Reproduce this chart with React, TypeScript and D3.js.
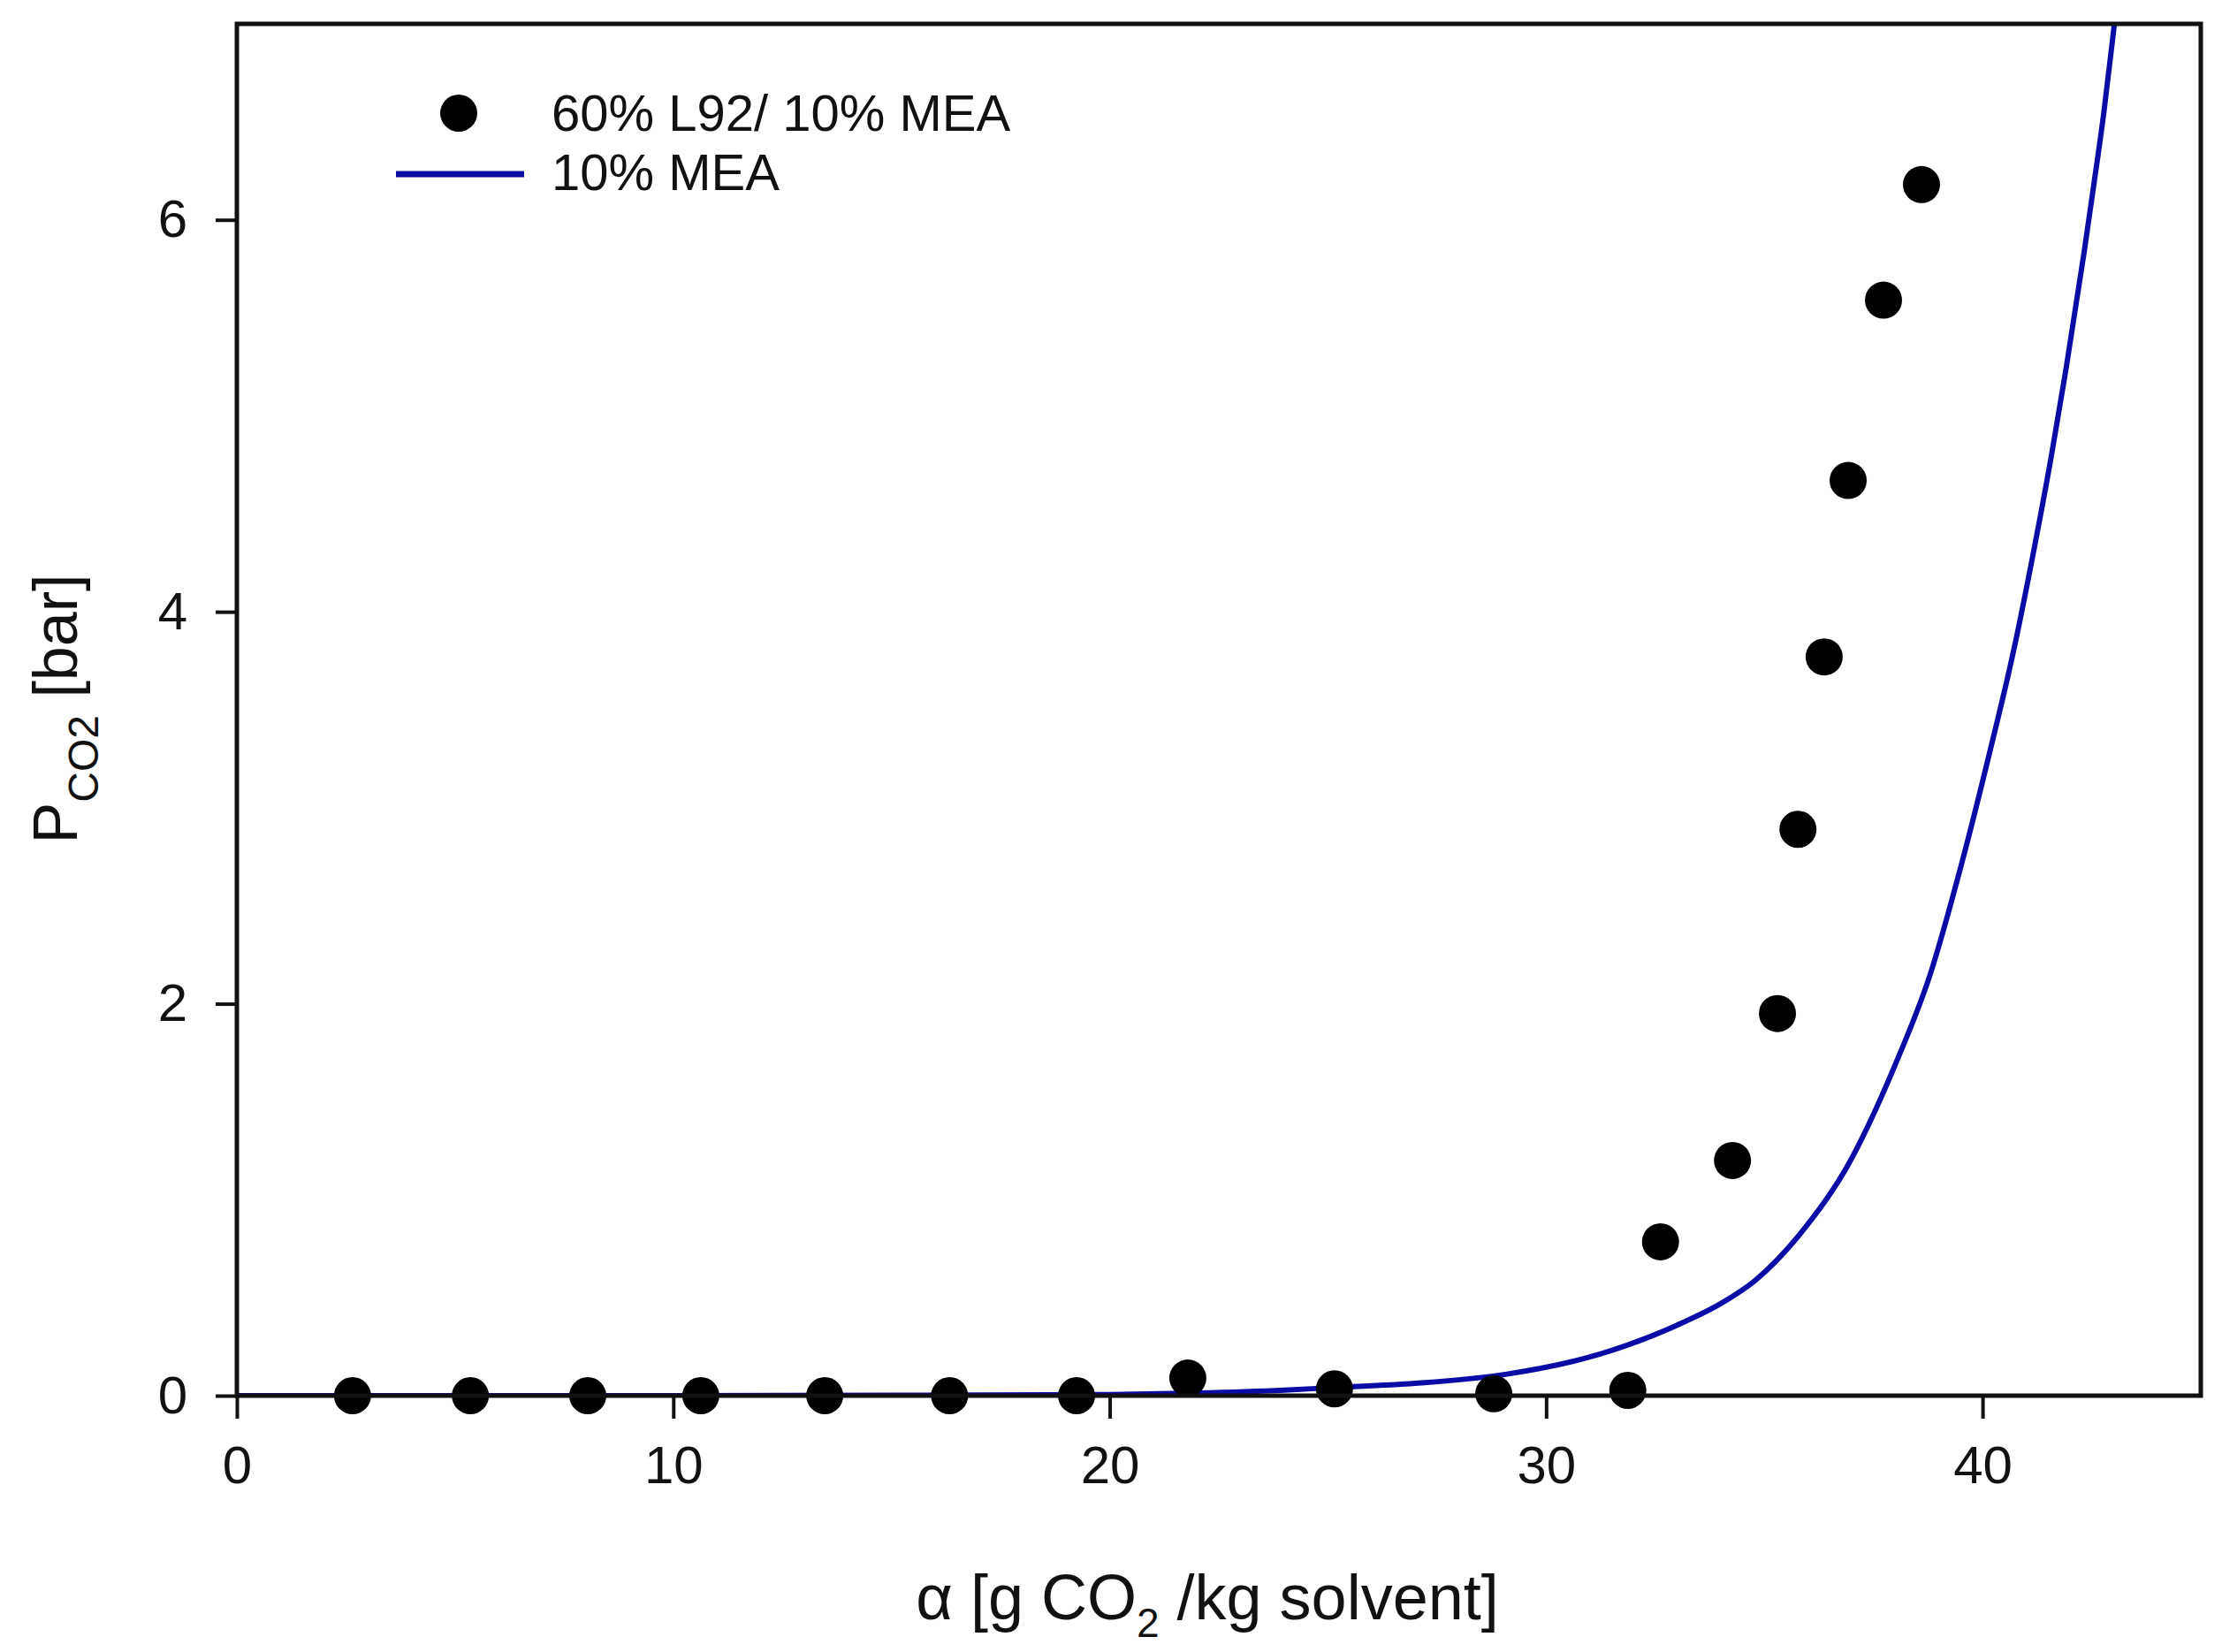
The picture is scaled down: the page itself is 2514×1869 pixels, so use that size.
import React, { useRef, useEffect } from "react"
import * as d3 from "d3"

// measured data: 60% L92 / 10% MEA
const pointAlpha = [2.65, 5.35, 8.04, 10.63, 13.47, 16.33, 19.24, 21.79, 25.15, 28.8, 31.87, 32.62, 34.27, 35.3, 35.77, 36.37, 36.92, 37.73, 38.6]
const pointP = [0, 0, 0, 0, 0, 0, 0, 0.09, 0.035, 0.01, 0.027, 0.785, 1.2, 1.95, 2.89, 3.77, 4.67, 5.59, 6.18]

// model curve: 10% MEA
const curveAlpha = [0, 5, 10, 15, 20, 22, 24, 25, 27, 29.1, 31.2, 33.2, 34.0, 34.8, 35.8, 36.9, 38.0, 38.8, 39.55, 40.16, 40.71, 41.18, 41.58, 41.92, 42.33, 42.53, 42.78, 43.02, 43.2]
const curveP = [0, 0, 0, 0.002, 0.006, 0.013, 0.028, 0.04, 0.063, 0.11, 0.21, 0.38, 0.47, 0.59, 0.82, 1.17, 1.69, 2.15, 2.74, 3.28, 3.8, 4.32, 4.8, 5.25, 5.84, 6.15, 6.55, 7.0, 7.35]

const xTicks = [0, 10, 20, 30, 40]
const yTicks = [0, 2, 4, 6]
const legendLabels = ["60% L92/ 10% MEA", "10% MEA"]

const WIDTH = 2514
const HEIGHT = 1869
const MARGIN = { top: 27, right: 24, bottom: 290, left: 268 }
const BLUE = "#0b0ba6"
const FONT = "'Liberation Sans', Arial, sans-serif"

export default function App() {
  const svgRef = useRef<SVGSVGElement>(null)

  useEffect(() => {
    const svg = svgRef.current
    if (!svg) return
    const innerW = WIDTH - MARGIN.left - MARGIN.right
    const innerH = HEIGHT - MARGIN.top - MARGIN.bottom

    d3.select(svg).selectAll("*").remove()

    const x = d3.scaleLinear().domain([0, 45]).range([0, innerW])
    const y = d3.scaleLinear().domain([0, 7]).range([innerH, 0])

    d3.select(svg).append("defs").append("clipPath").attr("id", "plot-clip")
      .append("rect").attr("x", 0).attr("y", 0).attr("width", innerW).attr("height", innerH)

    const root = d3.select(svg).append("g")
      .attr("transform", `translate(${MARGIN.left},${MARGIN.top})`)

    // Axes
    root.append("g").attr("transform", `translate(0,${innerH})`)
      .call(d3.axisBottom(x).tickValues(xTicks).tickSize(26).tickPadding(30).tickFormat((d) => String(d)))
      .call((g) => g.select(".domain").remove())
      .call((g) => g.selectAll(".tick line").attr("stroke", "#111").attr("stroke-width", 4))
      .call((g) => g.selectAll("text").attr("fill", "#111").attr("font-size", 60).attr("font-family", FONT))

    root.append("g")
      .call(d3.axisLeft(y).tickValues(yTicks).tickSize(24).tickPadding(32).tickFormat((d) => String(d)))
      .call((g) => g.select(".domain").remove())
      .call((g) => g.selectAll(".tick line").attr("stroke", "#111").attr("stroke-width", 4))
      .call((g) => g.selectAll("text").attr("fill", "#111").attr("font-size", 60).attr("font-family", FONT))

    // 10% MEA curve
    const curve = curveAlpha.map((a, i) => ({ a, p: curveP[i] }))
    const line = d3.line<{ a: number; p: number }>()
      .x((d) => x(d.a)).y((d) => y(d.p))
      .curve(d3.curveMonotoneX)

    root.append("path").datum(curve)
      .attr("clip-path", "url(#plot-clip)")
      .attr("fill", "none").attr("stroke", BLUE).attr("stroke-width", 6)
      .attr("stroke-linejoin", "round")
      .attr("d", line)

    // Measured points
    const pts = pointAlpha.map((a, i) => ({ a, p: pointP[i] }))
    root.append("g").selectAll("circle").data(pts).join("circle")
      .attr("cx", (d) => x(d.a)).attr("cy", (d) => y(d.p))
      .attr("r", 21).attr("fill", "#000")

    // Frame
    root.append("rect")
      .attr("x", 0).attr("y", 0).attr("width", innerW).attr("height", innerH)
      .attr("fill", "none").attr("stroke", "#111").attr("stroke-width", 5)

    // Legend
    const legend = d3.select(svg).append("g").attr("font-family", FONT).attr("font-size", 58).attr("fill", "#111")
    legend.append("circle").attr("cx", 519).attr("cy", 128).attr("r", 21).attr("fill", "#000")
    legend.append("text").attr("x", 624).attr("y", 148).text(legendLabels[0])
    legend.append("line").attr("x1", 448).attr("x2", 593).attr("y1", 197).attr("y2", 197)
      .attr("stroke", BLUE).attr("stroke-width", 7)
    legend.append("text").attr("x", 624).attr("y", 215).text(legendLabels[1])

    // X title
    const xt = d3.select(svg).append("text")
      .attr("x", 1366).attr("y", 1832).attr("text-anchor", "middle")
      .attr("font-family", FONT).attr("font-size", 72).attr("fill", "#111")
    xt.append("tspan").text("α [g CO")
    xt.append("tspan").attr("font-size", 46).attr("dy", 20).text("2")
    xt.append("tspan").attr("dy", -20).text(" /kg solvent]")

    // Y title
    const yt = d3.select(svg).append("text")
      .attr("transform", "translate(87,802) rotate(-90)").attr("text-anchor", "middle")
      .attr("font-family", FONT).attr("font-size", 70).attr("fill", "#111")
    yt.append("tspan").text("P")
    yt.append("tspan").attr("font-size", 48).attr("dy", 24).text("CO2")
    yt.append("tspan").attr("dy", -24).text(" [bar]")
  }, [])

  return (
    <svg
      ref={svgRef}
      width={WIDTH}
      height={HEIGHT}
      style={{ position: "absolute", left: 0, top: 0, display: "block", background: "#fff" }}
    />
  )
}
